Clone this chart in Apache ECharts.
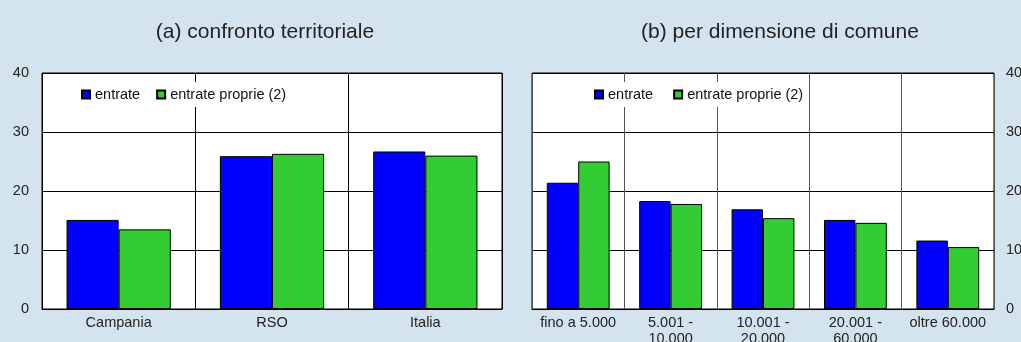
<!DOCTYPE html>
<html>
<head>
<meta charset="utf-8">
<script src="https://cdn.jsdelivr.net/npm/echarts@6/dist/echarts.min.js"></script>
<style>
  html, body { margin: 0; padding: 0; background: #d3e4ee; }
  #chart { width: 1021px; height: 342px; }
</style>
</head>
<body>
<div id="chart"></div>
<script>
// pannello (a)
const regioni = ["Campania", "RSO", "Italia"];
const entrateA = [15.1, 25.9, 26.7];
const proprieA = [13.5, 26.3, 26.0];

// pannello (b)
const classi = ["fino a 5.000", "5.001 - 10.000", "10.001 - 20.000", "20.001 - 60.000", "oltre 60.000"];
const entrateB = [21.4, 18.3, 16.9, 15.1, 11.6];
const proprieB = [25.0, 17.8, 15.4, 14.6, 10.5];

const yTicks = [0, 10, 20, 30, 40];

const BLU = "#0000ff";
const VERDE = "#33cc33";
const FONT = "Liberation Sans, Arial, sans-serif";

const chart = echarts.init(document.getElementById("chart"));

const barStyle = (color) => ({
  color: color,
  borderColor: "#000",
  borderWidth: 1,
});

const legendBase = {
  top: 82,
  padding: [5, 5],
  backgroundColor: "#fff",
  itemWidth: 8,
  itemHeight: 8,
  icon: "rect",
  textStyle: { color: "#111", fontSize: 14.5, fontFamily: FONT },
  data: ["entrate", "entrate proprie (2)"],
};

const option = {
  backgroundColor: "#d3e4ee",
  animation: false,
  title: [
    {
      text: "(a) confronto territoriale",
      left: 260,
      textAlign: "center",
      top: 17,
      textStyle: { color: "#222", fontSize: 21, fontWeight: "normal", fontFamily: FONT },
    },
    {
      text: "(b) per dimensione di comune",
      left: 775,
      textAlign: "center",
      top: 17,
      textStyle: { color: "#222", fontSize: 21, fontWeight: "normal", fontFamily: FONT },
    },
  ],
  legend: [
    Object.assign({}, legendBase, { left: 76, itemGap: 16 }),
    Object.assign({}, legendBase, { left: 589, itemGap: 20 }),
  ],
  grid: [
    {
      left: 42, top: 73, width: 460, height: 236,
      outerBoundsMode: "none",
      show: true, backgroundColor: "#fff", borderColor: "#000", borderWidth: 1,
    },
    {
      left: 532, top: 73, width: 462, height: 236,
      outerBoundsMode: "none",
      show: true, backgroundColor: "#fff", borderColor: "#000", borderWidth: 1,
    },
  ],
  xAxis: [
    {
      type: "category",
      gridIndex: 0,
      data: regioni,
      axisLine: { show: true, lineStyle: { color: "#000" } },
      axisTick: { show: false },
      axisLabel: { color: "#222", fontSize: 14.5, fontFamily: FONT, margin: 6 },
      splitLine: { show: true, interval: 0, lineStyle: { color: "#000", width: 1 } },
    },
    {
      type: "category",
      gridIndex: 1,
      data: classi,
      axisLine: { show: true, lineStyle: { color: "#000" } },
      axisTick: { show: false },
      axisLabel: {
        color: "#222",
        fontSize: 14.5,
        fontFamily: FONT,
        margin: 6,
        interval: 0,
        lineHeight: 16,
        formatter: (v) => v.replace(" - ", " -\n"),
      },
      splitLine: { show: true, interval: 0, lineStyle: { color: "#555", width: 1 } },
    },
  ],
  yAxis: [
    {
      type: "value",
      gridIndex: 0,
      min: yTicks[0],
      max: yTicks[yTicks.length - 1],
      interval: 10,
      axisLine: { show: false },
      axisTick: { show: false },
      axisLabel: { color: "#222", fontSize: 14.5, fontFamily: FONT, margin: 13 },
      splitLine: { show: true, lineStyle: { color: "#000", width: 1 } },
    },
    {
      type: "value",
      gridIndex: 1,
      position: "right",
      min: yTicks[0],
      max: yTicks[yTicks.length - 1],
      interval: 10,
      axisLine: { show: false },
      axisTick: { show: false },
      axisLabel: { color: "#222", fontSize: 14.5, fontFamily: FONT, margin: 12 },
      splitLine: { show: true, lineStyle: { color: "#000", width: 1 } },
    },
  ],
  series: [
    {
      name: "entrate",
      type: "bar",
      xAxisIndex: 0,
      yAxisIndex: 0,
      data: entrateA,
      barGap: "0%",
      barCategoryGap: "32%",
      itemStyle: barStyle(BLU),
    },
    {
      name: "entrate proprie (2)",
      type: "bar",
      xAxisIndex: 0,
      yAxisIndex: 0,
      data: proprieA,
      barGap: "0%",
      barCategoryGap: "32%",
      itemStyle: barStyle(VERDE),
    },
    {
      name: "entrate",
      type: "bar",
      xAxisIndex: 1,
      yAxisIndex: 1,
      data: entrateB,
      barGap: "0%",
      barCategoryGap: "32%",
      itemStyle: barStyle(BLU),
    },
    {
      name: "entrate proprie (2)",
      type: "bar",
      xAxisIndex: 1,
      yAxisIndex: 1,
      data: proprieB,
      barGap: "0%",
      barCategoryGap: "32%",
      itemStyle: barStyle(VERDE),
    },
  ],
};

chart.setOption(option);
</script>
</body>
</html>
